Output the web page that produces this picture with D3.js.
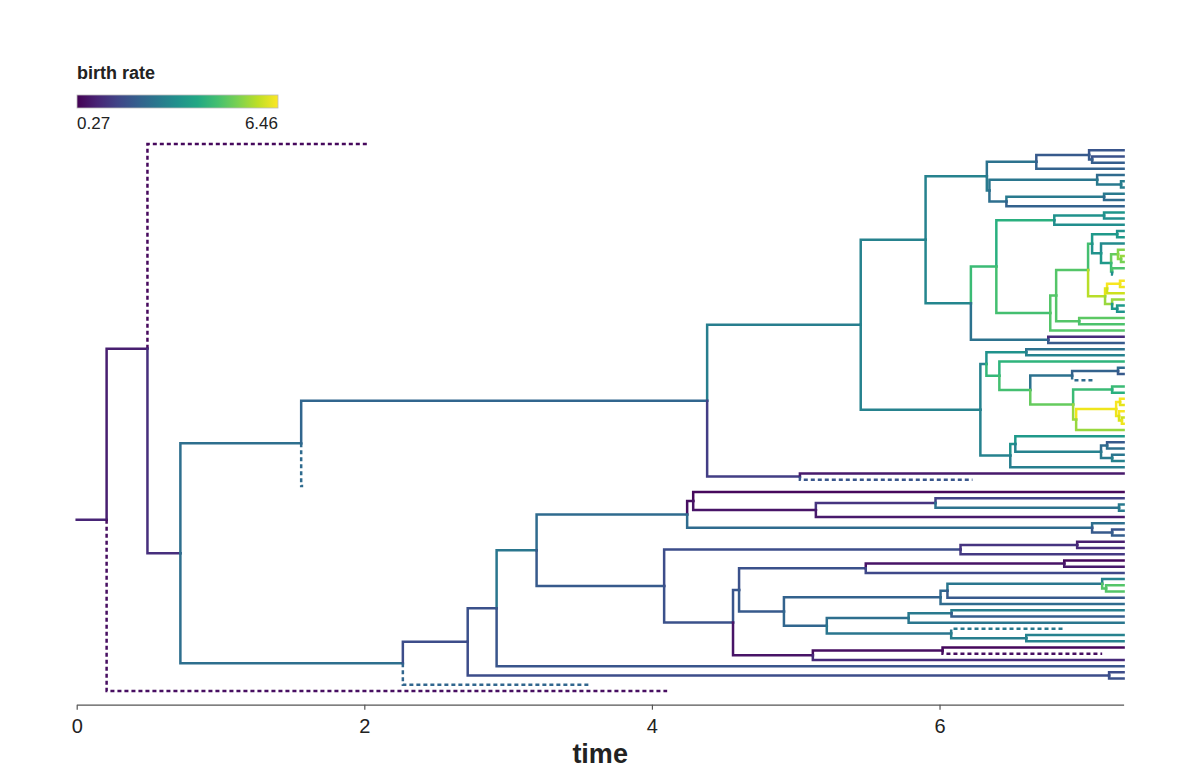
<!DOCTYPE html>
<html lang="en">

<head>
  <meta charset="utf-8">
  <title>birth rate tree</title>
  <script src="https://d3js.org/d3.v7.min.js"></script>
  <style>
    body { margin: 0; background: #fff; }
    text { font-family: "Liberation Sans", Arial, sans-serif; }
  </style>
</head>

<body>
  <div id="container"></div>

  <script type="text/javascript">
    var presentTime = 7.28;
    var rateRange = [0.27, 6.46];
    var timeTicks = [0, 2, 4, 6];

    // tree, one entry per node in top-to-bottom order (null time = alive at present)
    var nodeNames = [
      "root", "A", "B", "t1", "C", "D", "F", "G", "I",
      "K", "K1", "K1a", "t2", "K1c", "t3", "t4", "t5", "K2", "K2u", "t6", "K2uc", "t7", "t8", "K2l", "K2lc", "t9", "t10", "t11",
      "L", "M", "M1", "M1c", "t12", "t13", "t14", "M2", "M2a", "M3", "M5", "M5c", "t15", "t16", "M7", "t17", "M8", "M9", "t18", "M9c", "t19", "t20", "M10", "t21", "t22",
      "M6", "M6a", "M6ac", "t23", "t24", "t25", "M6b", "t26", "M6bc", "t27", "t28", "M4", "t29", "t30", "t31", "N", "t32", "t33",
      "J", "J1", "J1a", "t34", "t35", "J1b", "t36", "J1c", "J1d", "J1dc", "t37", "t38", "t39", "J1e", "J1ec", "t40", "t41", "J1f", "Yc", "Yc1", "t42", "t43", "Yc2", "t44", "Yc3", "t45", "t46", "t47",
      "J2", "J2a", "t48", "J2b", "J2b1", "t49", "t50", "J2b2", "t51", "t52", "t53", "H", "t54", "t55", "t56",
      "E", "E1", "E2", "E3", "E4", "E4a", "t57", "Ea2", "Ea3", "t58", "Ea3c", "t59", "t60", "t61", "E4b", "t62", "E4bc", "t63", "t64",
      "E5", "E6", "E6c", "t65", "t66", "t67", "E7", "E8", "E10", "E10c", "t68", "t69", "t70", "E11", "E12", "E12a", "E12b", "t71", "E12c", "t72", "t73", "t74", "t75",
      "E13", "E13a", "E13aa", "t76", "t77", "t78", "E13b", "t79", "E13bc", "t80", "t81", "E9", "E9a", "t82", "t83", "t84", "t85", "E1c", "t86", "t87", "t88", "t89"
    ];
    var parentNames = [
      "", "root", "A", "B", "B", "C", "D", "F", "G",
      "I", "K", "K1", "K1a", "K1a", "K1c", "K1c", "K1", "K", "K2", "K2u", "K2u", "K2uc", "K2uc", "K2", "K2l", "K2lc", "K2lc", "K2l",
      "I", "L", "M", "M1", "M1c", "M1c", "M1", "M", "M2", "M2a", "M3", "M5", "M5c", "M5c", "M5", "M7", "M7", "M8", "M9", "M9", "M9c", "M9c", "M8", "M10", "M10",
      "M3", "M6", "M6a", "M6ac", "M6ac", "M6a", "M6", "M6b", "M6b", "M6bc", "M6bc", "M2a", "M4", "M4", "M2", "L", "N", "N",
      "G", "J", "J1", "J1a", "J1a", "J1", "J1b", "J1b", "J1c", "J1d", "J1dc", "J1dc", "J1d", "J1c", "J1e", "J1ec", "J1ec", "J1e", "J1f", "Yc", "Yc1", "Yc1", "Yc", "Yc2", "Yc2", "Yc3", "Yc3", "J1f",
      "J", "J2", "J2a", "J2a", "J2b", "J2b1", "J2b1", "J2b", "J2b2", "J2b2", "J2", "F", "H", "H", "D",
      "C", "E", "E1", "E2", "E3", "E4", "E4a", "E4a", "Ea2", "Ea3", "Ea3", "Ea3c", "Ea3c", "Ea2", "E4", "E4b", "E4b", "E4bc", "E4bc",
      "E3", "E5", "E6", "E6c", "E6c", "E6", "E5", "E7", "E8", "E10", "E10c", "E10c", "E10", "E8", "E11", "E12", "E12a", "E12b", "E12b", "E12c", "E12c", "E12a", "E12",
      "E11", "E13", "E13a", "E13aa", "E13aa", "E13a", "E13", "E13b", "E13b", "E13bc", "E13bc", "E7", "E9", "E9a", "E9a", "E9", "E2", "E1", "E1c", "E1c", "E", "A"
    ];
    var nodeTimes = [
      0, 0.208, 0.492, 2.018, 0.721, 1.561, 4.384, 5.452, 5.903,
      6.329, 6.673, 7.040, null, 7.061, null, null, null, 6.347, 7.096, null, 7.262, null, null, 6.465, 7.144, null, null, null,
      6.218, 6.395, 6.798, 7.144, null, null, null, 6.770, 6.811, 7.033, 7.061, 7.235, null, null, 7.123, null, 7.193, 7.241, null, 7.262, null, null, 7.200, null, 7.22,
      7.151, 7.165, 7.255, null, null, null, 7.200, null, 7.235, null, null, 6.971, null, null, null, 6.756, null, null,
      6.284, 6.326, 6.603, null, null, 6.416, null, 6.631, 6.922, 7.241, null, null, 7.075, 6.929, 7.200, null, null, 6.950, 7.228, 7.255, null, null, 7.248, null, 7.268, null, null, null,
      6.492, 6.527, null, 7.123, 7.165, null, null, 7.200, null, null, null, 5.029, null, 6.229, 1.575,
      2.268, 2.719, 2.920, 3.198, 4.245, 4.287, null, 5.140, 5.972, null, 7.248, null, null, null, 7.061, null, 7.200, null, null,
      4.085, 6.146, 6.957, null, null, null, 4.564, 4.606, 5.487, 6.867, null, null, null, 4.918, 6.007, 6.055, 7.131, null, 7.158, null, null, null, null,
      5.216, 5.785, 6.083, null, null, null, 6.081, 6.860, 6.603, null, null, 5.119, 6.021, null, 7.131, null, null, 7.179, null, null, 3.558, 4.106
    ];
    // birth rate of the branch leading to each node
    var birthRates = [
      0.9, 0.9, 0.8, 0.4, 1.1, 2.5, 2.3, 2.9, 3.0,
      3.0, 2.6, 2.0, 1.9, 2.0, 1.8, 2.1, 2.2, 2.8, 2.7, 2.4, 2.8, 2.9, 2.9, 2.5, 2.8, 2.8, 2.4, 2.2,
      3.1, 4.5, 4.2, 3.4, 3.5, 3.3, 3.3, 4.6, 4.8, 4.8, 4.6, 3.6, 3.4, 3.6, 3.4, 3.2, 3.6, 5.0, 5.3, 5.4, 5.5, 5.2, 4.5, 4.7, 3.3,
      5.8, 6.2, 6.4, 6.4, 6.3, 6.0, 5.5, 5.5, 3.6, 3.6, 3.4, 4.8, 4.9, 4.7, 4.8, 2.6, 1.0, 2.0,
      3.0, 3.0, 3.4, 2.6, 3.0, 4.4, 4.3, 4.6, 2.6, 2.2, 2.4, 2.0, 2.4, 5.0, 4.5, 4.5, 4.2, 5.5, 6.3, 6.4, 6.4, 6.2, 6.3, 6.4, 6.1, 6.0, 6.3, 5.5,
      3.0, 3.4, 3.6, 3.0, 2.4, 2.0, 2.5, 2.8, 2.7, 3.0, 2.9, 1.4, 0.7, 1.9, 2.4,
      2.5, 1.7, 1.8, 2.7, 2.4, 0.5, 0.4, 0.6, 1.2, 1.5, 2.6, 2.8, 2.8, 0.7, 2.4, 2.5, 2.0, 1.9, 2.1,
      2.0, 1.7, 1.2, 0.8, 1.0, 1.3, 1.8, 1.9, 1.8, 0.6, 0.4, 0.7, 1.6, 2.0, 2.2, 2.3, 2.7, 3.0, 4.8, 4.8, 4.8, 2.0, 2.4,
      2.3, 2.5, 2.8, 2.9, 2.1, 2.7, 2.7, 2.8, 2.9, 3.0, 3.0, 0.6, 0.5, 0.4, 0.5, 1.0, 1.9, 1.7, 1.7, 1.8, 2.3, 0.5
    ];
    var extinctTips = ["t1", "t22", "t39", "t55", "t56", "t79", "t83", "t88", "t89"];

    if (parentNames.length != nodeNames.length || nodeTimes.length != nodeNames.length || birthRates.length != nodeNames.length) {
      throw new Error("array lengths " + nodeNames.length + " " + parentNames.length + " " + nodeTimes.length + " " + birthRates.length);
    }

    var w = 1200;
    var h = 768;

    var svg = d3.select("div#container")
      .append("svg")
      .attr("width", w)
      .attr("height", h);

    var table = nodeNames.map(function(d, i) {
      return {
        id: d,
        parentId: parentNames[i],
        time: nodeTimes[i] == null ? presentTime : nodeTimes[i],
        rate: birthRates[i],
        extinct: extinctTips.indexOf(d) >= 0
      };
    });

    var root = d3.stratify()(table);

    // tips evenly spaced, inner nodes halfway between first and last child
    var leaves = root.leaves();
    leaves.forEach(function(d, i) { d.pos = i; });
    root.eachAfter(function(d) {
      if (d.children) d.pos = (d.children[0].pos + d.children[d.children.length - 1].pos) / 2;
    });

    var x = d3.scaleLinear().domain([0, presentTime]).range([76.7, 1123.6]);
    var y = d3.scaleLinear().domain([0, leaves.length - 1]).range([144, 691]);
    var color = d3.scaleSequential(d3.interpolateViridis).domain(rateRange);

    // branches
    svg.append("g")
      .selectAll("path")
      .data(root.descendants().slice(1))
      .enter()
      .append("path")
      .attr("d", function(d) {
        return "M" + x(d.parent.data.time) + "," + y(d.parent.pos) +
          "V" + y(d.pos) + "H" + x(d.data.time);
      })
      .attr("fill", "none")
      .attr("stroke", function(d) { return color(d.data.rate); })
      .attr("stroke-width", 2.5)
      .attr("stroke-linecap", function(d) { return d.data.extinct ? "butt" : "square"; })
      .attr("stroke-dasharray", function(d) { return d.data.extinct ? "4,3" : null; });

    // axis
    var axis = svg.append("g")
      .attr("transform", "translate(0,704.7)")
      .call(d3.axisBottom(x).tickValues(timeTicks).tickFormat(d3.format("d")).tickSize(5).tickSizeOuter(0).tickPadding(9));
    axis.select(".domain").attr("stroke", "#555").attr("stroke-width", 1.2);
    axis.selectAll(".tick line").attr("stroke", "#555").attr("stroke-width", 1.2);
    axis.selectAll(".tick text")
      .attr("fill", "#222")
      .style("font-size", "20px")
      .style("font-family", "Liberation Sans, Arial, sans-serif");

    svg.append("text")
      .attr("x", (x.range()[0] + x.range()[1]) / 2)
      .attr("y", 763)
      .attr("text-anchor", "middle")
      .attr("fill", "#222")
      .style("font-size", "27px")
      .style("font-weight", "bold")
      .text("time");

    // legend
    var grad = svg.append("defs").append("linearGradient").attr("id", "viridis");
    d3.range(0, 1.0001, 0.1).forEach(function(t) {
      grad.append("stop").attr("offset", t * 100 + "%").attr("stop-color", d3.interpolateViridis(t));
    });

    var legend = svg.append("g");
    legend.append("text")
      .attr("x", 77)
      .attr("y", 79)
      .attr("fill", "#222")
      .style("font-size", "18px")
      .style("font-weight", "bold")
      .text("birth rate");
    legend.append("rect")
      .attr("x", 77)
      .attr("y", 95)
      .attr("width", 201)
      .attr("height", 13)
      .attr("fill", "url(#viridis)")
      .attr("stroke", "#bbb")
      .attr("stroke-width", 0.8);
    legend.append("text")
      .attr("x", 77)
      .attr("y", 129)
      .attr("fill", "#222")
      .style("font-size", "17px")
      .text(rateRange[0].toFixed(2));
    legend.append("text")
      .attr("x", 278)
      .attr("y", 129)
      .attr("text-anchor", "end")
      .attr("fill", "#222")
      .style("font-size", "17px")
      .text(rateRange[1].toFixed(2));
  </script>

</body>

</html>
